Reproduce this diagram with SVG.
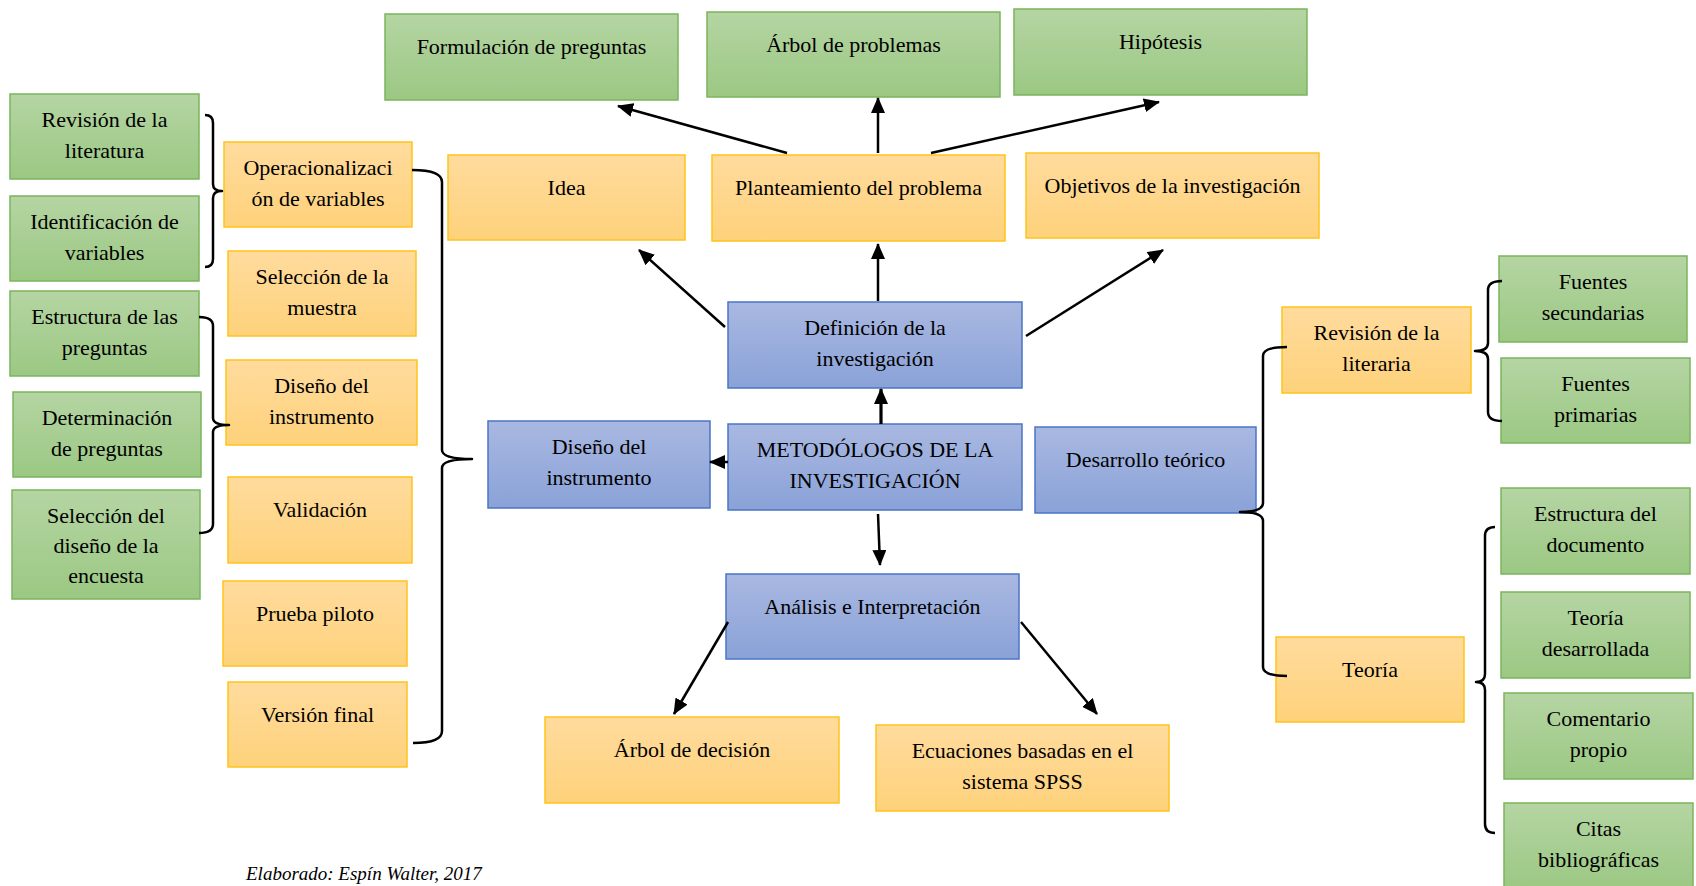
<svg xmlns="http://www.w3.org/2000/svg" width="1696" height="886" viewBox="0 0 1696 886">
  <style>
    .t { font-family: "Liberation Serif", "Times New Roman", serif; font-size: 22px; fill: #000; text-anchor: middle; }
    .g { fill: url(#gGreen); stroke: #7BB55D; stroke-width: 1.5; }
    .o { fill: url(#gOrange); stroke: #FFC31A; stroke-width: 1.5; }
    .b { fill: url(#gBlue); stroke: #4A75C6; stroke-width: 1.5; }
    .arrow { stroke: #000; stroke-width: 2.5; fill: none; marker-end: url(#ah); }
    .brace { stroke: #000; stroke-width: 2.5; fill: none; stroke-linejoin: round; }
    .foot { font-family: "Liberation Serif", "Times New Roman", serif; font-size: 19px; font-style: italic; fill: #000; }
  </style>
  <defs>
    <linearGradient id="gGreen" x1="0" y1="0" x2="0" y2="1">
      <stop offset="0" stop-color="#B5D5A3"/>
      <stop offset="1" stop-color="#9BC883"/>
    </linearGradient>
    <linearGradient id="gOrange" x1="0" y1="0" x2="0" y2="1">
      <stop offset="0" stop-color="#FFDB9D"/>
      <stop offset="1" stop-color="#FED27B"/>
    </linearGradient>
    <linearGradient id="gBlue" x1="0" y1="0" x2="0" y2="1">
      <stop offset="0" stop-color="#A9B8E1"/>
      <stop offset="1" stop-color="#8AA2D8"/>
    </linearGradient>
    <marker id="ah" markerUnits="userSpaceOnUse" markerWidth="16" markerHeight="14" refX="15" refY="7" orient="auto">
      <path d="M0,0 L16,7 L0,14 Z" fill="#000"/>
    </marker>
  </defs>

  <!-- left column: green boxes -->
  <g id="n_revlit"><rect class="g" x="10" y="94" width="189" height="85"/><text class="t" x="104.5" y="127">Revisión de la</text><text class="t" x="104.5" y="157.5">literatura</text></g>
  <g id="n_idvar"><rect class="g" x="10" y="196" width="189" height="85"/><text class="t" x="104.5" y="229">Identificación de</text><text class="t" x="104.5" y="259.5">variables</text></g>
  <g id="n_estpreg"><rect class="g" x="10" y="291" width="189" height="85"/><text class="t" x="104.5" y="324">Estructura de las</text><text class="t" x="104.5" y="354.5">preguntas</text></g>
  <g id="n_detpreg"><rect class="g" x="13" y="392" width="188" height="85"/><text class="t" x="107" y="425">Determinación</text><text class="t" x="107" y="455.5">de preguntas</text></g>
  <g id="n_seldis"><rect class="g" x="12" y="490" width="188" height="109"/><text class="t" x="106" y="523">Selección del</text><text class="t" x="106" y="553">diseño de la</text><text class="t" x="106" y="583">encuesta</text></g>

  <!-- left column: orange boxes -->
  <g id="n_oper"><rect class="o" x="224" y="142" width="188" height="85"/><text class="t" x="318" y="175">Operacionalizaci</text><text class="t" x="318" y="205.5">ón de variables</text></g>
  <g id="n_selmue"><rect class="o" x="228" y="251" width="188" height="85"/><text class="t" x="322" y="284">Selección de la</text><text class="t" x="322" y="314.5">muestra</text></g>
  <g id="n_disins"><rect class="o" x="226" y="360" width="191" height="85"/><text class="t" x="321.5" y="393">Diseño del</text><text class="t" x="321.5" y="423.5">instrumento</text></g>
  <g id="n_valid"><rect class="o" x="228" y="477" width="184" height="86"/><text class="t" x="320" y="517">Validación</text></g>
  <g id="n_piloto"><rect class="o" x="223" y="581" width="184" height="85"/><text class="t" x="315" y="621">Prueba piloto</text></g>
  <g id="n_version"><rect class="o" x="228" y="682" width="179" height="85"/><text class="t" x="317.5" y="722">Versión final</text></g>

  <!-- top row -->
  <g id="n_formul"><rect class="g" x="385" y="14" width="293" height="86"/><text class="t" x="531.5" y="54">Formulación de preguntas</text></g>
  <g id="n_arbolprob"><rect class="g" x="707" y="12" width="293" height="85"/><text class="t" x="853.5" y="52">Árbol de problemas</text></g>
  <g id="n_hipo"><rect class="g" x="1014" y="9" width="293" height="86"/><text class="t" x="1160.5" y="49">Hipótesis</text></g>

  <g id="n_idea"><rect class="o" x="448" y="155" width="237" height="85"/><text class="t" x="566.5" y="195">Idea</text></g>
  <g id="n_plant"><rect class="o" x="712" y="155" width="293" height="86"/><text class="t" x="858.5" y="195">Planteamiento del problema</text></g>
  <g id="n_obj"><rect class="o" x="1026" y="153" width="293" height="85"/><text class="t" x="1172.5" y="193">Objetivos de la investigación</text></g>

  <!-- centre column -->
  <g id="n_defin"><rect class="b" x="728" y="302" width="294" height="86"/><text class="t" x="875" y="335">Definición de la</text><text class="t" x="875" y="365.5">investigación</text></g>
  <g id="n_metod"><rect class="b" x="728" y="424" width="294" height="86"/><text class="t" x="875" y="457">METODÓLOGOS DE LA</text><text class="t" x="875" y="487.5">INVESTIGACIÓN</text></g>
  <g id="n_disblue"><rect class="b" x="488" y="421" width="222" height="87"/><text class="t" x="599" y="454">Diseño del</text><text class="t" x="599" y="484.5">instrumento</text></g>
  <g id="n_desarr"><rect class="b" x="1035" y="427" width="221" height="86"/><text class="t" x="1145.5" y="467">Desarrollo teórico</text></g>
  <g id="n_analisis"><rect class="b" x="726" y="574" width="293" height="85"/><text class="t" x="872.5" y="614">Análisis e Interpretación</text></g>

  <g id="n_arboldec"><rect class="o" x="545" y="717" width="294" height="86"/><text class="t" x="692" y="757">Árbol de decisión</text></g>
  <g id="n_ecu"><rect class="o" x="876" y="725" width="293" height="86"/><text class="t" x="1022.5" y="758">Ecuaciones basadas en el</text><text class="t" x="1022.5" y="788.5">sistema SPSS</text></g>

  <!-- right side -->
  <g id="n_revlitr"><rect class="o" x="1282" y="307" width="189" height="86"/><text class="t" x="1376.5" y="340">Revisión de la</text><text class="t" x="1376.5" y="370.5">literaria</text></g>
  <g id="n_teoria"><rect class="o" x="1276" y="637" width="188" height="85"/><text class="t" x="1370" y="677">Teoría</text></g>

  <g id="n_fsec"><rect class="g" x="1499" y="256" width="188" height="86"/><text class="t" x="1593" y="289">Fuentes</text><text class="t" x="1593" y="319.5">secundarias</text></g>
  <g id="n_fprim"><rect class="g" x="1501" y="358" width="189" height="85"/><text class="t" x="1595.5" y="391">Fuentes</text><text class="t" x="1595.5" y="421.5">primarias</text></g>
  <g id="n_estdoc"><rect class="g" x="1501" y="488" width="189" height="86"/><text class="t" x="1595.5" y="521">Estructura del</text><text class="t" x="1595.5" y="551.5">documento</text></g>
  <g id="n_teodes"><rect class="g" x="1501" y="592" width="189" height="86"/><text class="t" x="1595.5" y="625">Teoría</text><text class="t" x="1595.5" y="655.5">desarrollada</text></g>
  <g id="n_coment"><rect class="g" x="1504" y="693" width="189" height="86"/><text class="t" x="1598.5" y="726">Comentario</text><text class="t" x="1598.5" y="756.5">propio</text></g>
  <g id="n_citas"><rect class="g" x="1504" y="803" width="189" height="86"/><text class="t" x="1598.5" y="836">Citas</text><text class="t" x="1598.5" y="866.5">bibliográficas</text></g>

  <!-- connectors -->
  <g id="connectors">
    <line class="arrow" x1="787" y1="153" x2="618" y2="106"/>
    <line class="arrow" x1="878" y1="153" x2="878" y2="98"/>
    <line class="arrow" x1="931" y1="153" x2="1159" y2="102"/>
    <line class="arrow" x1="725" y1="327" x2="639" y2="250"/>
    <line class="arrow" x1="878" y1="301" x2="878" y2="244"/>
    <line class="arrow" x1="1026" y1="336" x2="1163" y2="250"/>
    <line class="arrow" x1="881" y1="424" x2="881" y2="389" style="stroke-width:3.2"/>
    <line class="arrow" x1="728" y1="462" x2="710" y2="462"/>
    <line class="arrow" x1="878" y1="514" x2="880" y2="565"/>
    <line class="arrow" x1="728" y1="622" x2="674" y2="714"/>
    <line class="arrow" x1="1021" y1="622" x2="1097" y2="714"/>

    <!-- curly brackets -->
    <path class="brace" d="M205,115 Q213,115 213,123 L213,184 Q213,191 222,191 Q213,191 213,198 L213,259 Q213,267 205,267"/>
    <path class="brace" d="M199,317 Q213,317 213,326 L213,418 Q213,425 229,425 Q213,425 213,432 L213,524 Q213,533 199,533"/>
    <path class="brace" d="M412,170 Q442,170 442,182 L442,450 Q442,459 472,459 Q442,459 442,468 L442,731 Q442,743 413,743"/>
    <path class="brace" d="M1287,347 Q1263,347 1263,356 L1263,503 Q1263,512 1240,512 Q1263,512 1263,521 L1263,667 Q1263,676 1287,676"/>
    <path class="brace" d="M1502,281 Q1488,281 1488,290 L1488,343 Q1488,351 1475,351 Q1488,351 1488,359 L1488,412 Q1488,421 1502,421"/>
    <path class="brace" d="M1495,527 Q1485,527 1485,536 L1485,674 Q1485,682 1476,682 Q1485,682 1485,690 L1485,824 Q1485,833 1495,833"/>
  </g>

  <text class="foot" x="246" y="880">Elaborado: Espín Walter, 2017</text>
</svg>
